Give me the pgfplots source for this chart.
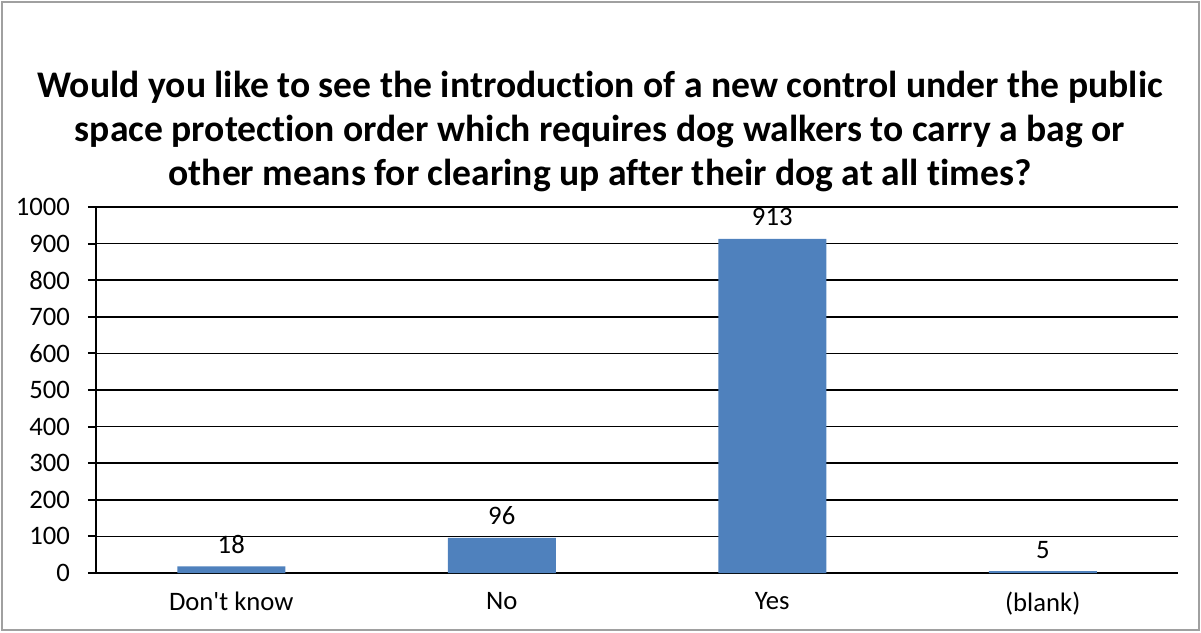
\documentclass[border=0pt]{standalone}
\usepackage{pgfplots}
\pgfplotsset{compat=1.18}
\usepackage{fontspec}
\setmainfont{Carlito}[Numbers={Lining,Monospaced}, Ligatures=NoCommon]
\definecolor{barblue}{HTML}{4F81BD}
\definecolor{framegray}{HTML}{A0A0A0}
\begin{document}
\begin{tikzpicture}[x=0.75pt,y=0.75pt]
\useasboundingbox (0,0) rectangle (1201,632);
\draw[framegray, line width=1.5pt] (2,2) rectangle (1199,630);
\node[font=\bfseries\fontsize{28.2}{33}\selectfont, align=center] at (600,501)
  {Would you like to see the introduction of a new control under the public\\
   space protection order which requires dog walkers to carry a bag or\\
   other means for clearing up after their dog at all times?};
\begin{axis}[
  at={(72pt,44.25pt)}, anchor=south west,
  scale only axis,
  width=811.5pt, height=274.5pt,
  xmin=-0.5, xmax=3.5, ymin=0, ymax=1000,
  axis x line*=bottom, axis y line*=left,
  axis line style={black, line width=1.5pt},
  ytick={0,100,...,1000},
  ymajorgrids, grid style={black, line width=1.3pt},
  xtick={0,1,2,3},
  xticklabels={Don\textquotesingle t know,No,Yes,(blank)},
  extra x ticks={-0.5,0.5,1.5,2.5,3.5},
  extra x tick labels={},
  extra x tick style={major tick length=6pt, tick style={black, line width=1.5pt}, tick align=outside, grid=none},
  major x tick style={draw=none},
  major y tick style={black, line width=1.5pt},
  tick align=outside, major tick length=6pt,
  ticklabel style={font=\fontsize{20}{23}\selectfont},
  /pgf/number format/assume math mode=true,
  /pgf/number format/1000 sep={},
  xticklabel style={yshift=-5pt},
  yticklabel style={xshift=-10pt},
  ybar, bar width=81pt,
  nodes near coords,
  nodes near coords style={font=\fontsize{20}{23}\selectfont, yshift=6pt},
  clip=false,
]
\addplot[fill=barblue, draw=none] coordinates {(0,18) (1,96) (2,913) (3,5)};
\end{axis}
\end{tikzpicture}
\end{document}
